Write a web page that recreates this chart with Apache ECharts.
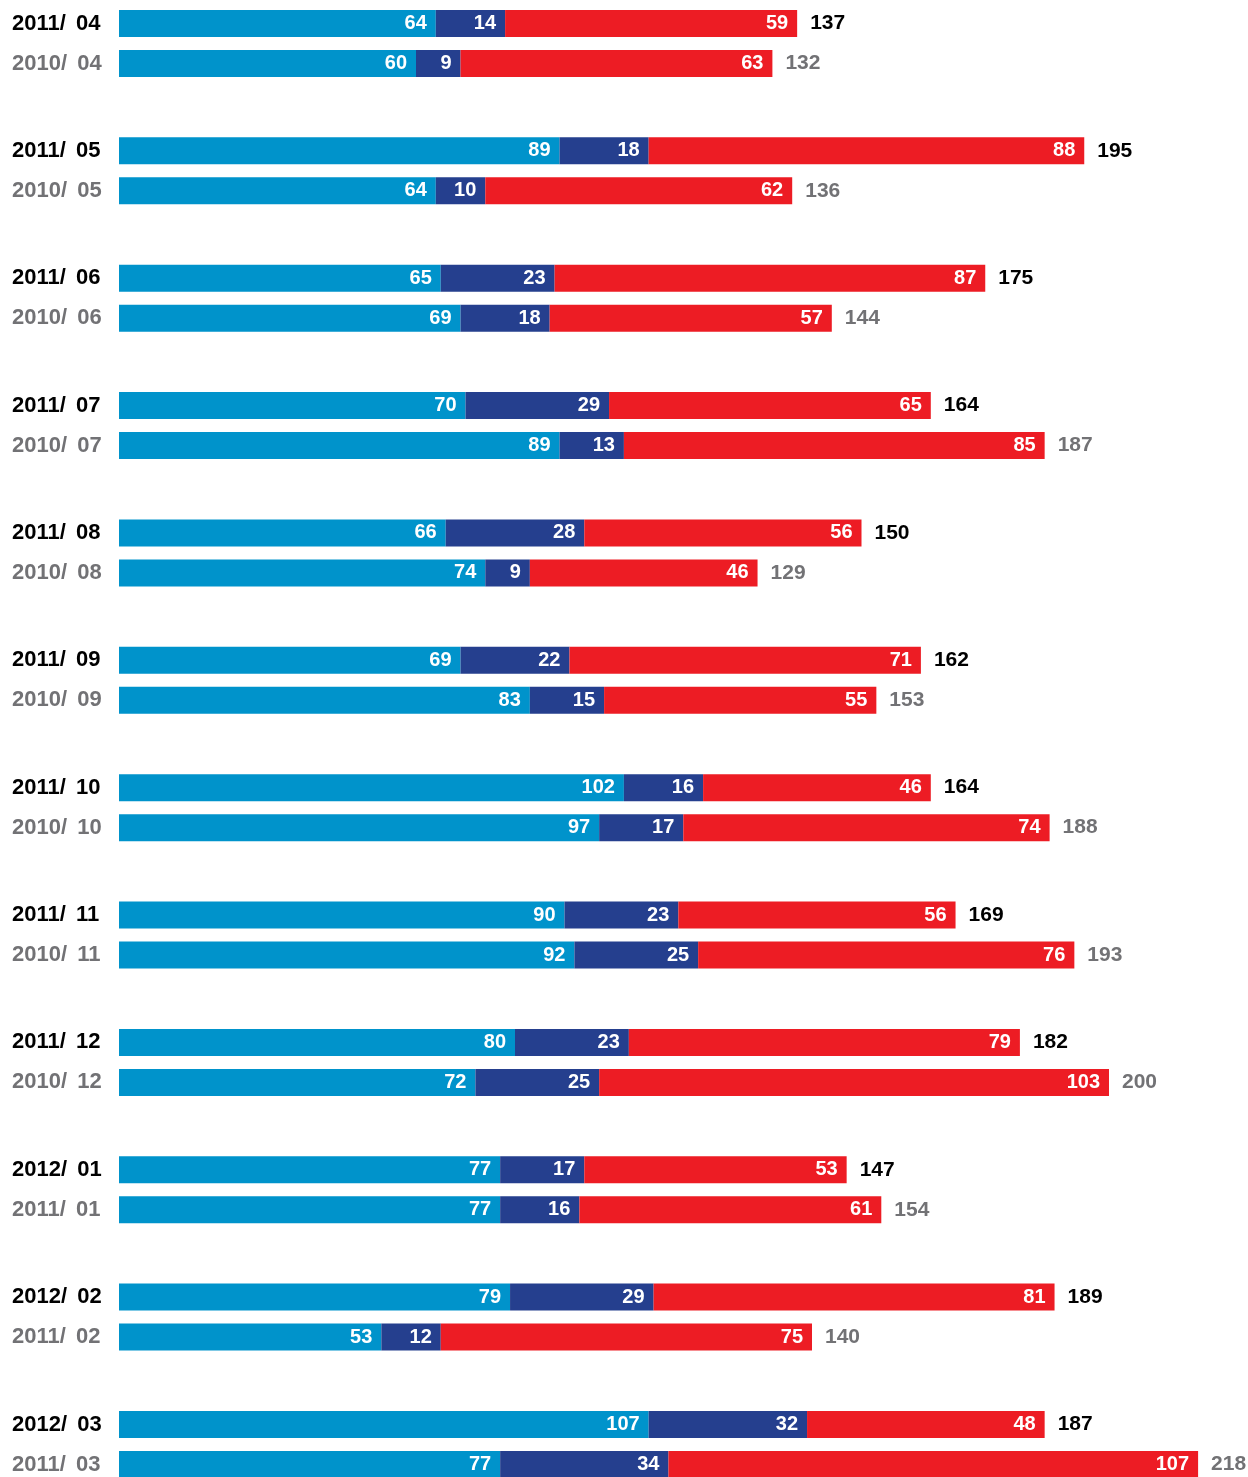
<!DOCTYPE html>
<html>
<head>
<meta charset="utf-8">
<title>Monthly comparison</title>
<script src="https://cdn.jsdelivr.net/npm/echarts@6/dist/echarts.min.js"></script>
<style>
  html, body { margin: 0; padding: 0; background: #fff; }
  #chart { width: 1248px; height: 1477px; }
</style>
</head>
<body>
<div id="chart"></div>
<script>
// months: current year (bold black) and prior year (gray)
const curMonths = ['2011/ 04', '2011/ 05', '2011/ 06', '2011/ 07', '2011/ 08', '2011/ 09',
  '2011/ 10', '2011/ 11', '2011/ 12', '2012/ 01', '2012/ 02', '2012/ 03']
const prevMonths = ['2010/ 04', '2010/ 05', '2010/ 06', '2010/ 07', '2010/ 08', '2010/ 09',
  '2010/ 10', '2010/ 11', '2010/ 12', '2011/ 01', '2011/ 02', '2011/ 03']

// segment values, current year
const curLight = [64, 89, 65, 70, 66, 69, 102, 90, 80, 77, 79, 107]
const curDark = [14, 18, 23, 29, 28, 22, 16, 23, 23, 17, 29, 32]
const curRed = [59, 88, 87, 65, 56, 71, 46, 56, 79, 53, 81, 48]

// segment values, prior year
const prevLight = [60, 64, 69, 89, 74, 83, 97, 92, 72, 77, 53, 77]
const prevDark = [9, 10, 18, 13, 9, 15, 17, 25, 25, 16, 12, 34]
const prevRed = [63, 62, 57, 85, 46, 55, 74, 76, 103, 61, 75, 107]

const LIGHT = '#0093cb'
const DARK = '#253f8e'
const RED = '#ed1c24'
const BLACK = '#000000'
const GRAY = '#727275'
const FONT = '"Liberation Sans", Arial, Helvetica, sans-serif'

const chart = echarts.init(document.getElementById('chart'))

const grids = []
const xAxes = []
const yAxes = []
const series = []

// "2011/ 04" -> year part and month part, month pushed a bit right like the original
function monthLabel(text, gray) {
  const cut = text.indexOf(' ') + 1
  const s = gray ? 'g' : ''
  return '{y' + s + '|' + text.slice(0, cut) + '}{m' + s + '|' + text.slice(cut) + '}'
}

const labelFont = { fontSize: 22, fontWeight: 'bold', fontFamily: FONT }

curMonths.forEach((month, i) => {
  grids.push({
    left: 119, width: 1089, top: 3.5 + i * 127.36, height: 80,
    containLabel: false, outerBoundsMode: 'none'
  })
  xAxes.push({
    type: 'value', gridIndex: i, min: 0, max: 220,
    show: false, splitLine: { show: false }
  })
  yAxes.push({
    type: 'category', gridIndex: i, inverse: true,
    data: [month, prevMonths[i]],
    axisLine: { show: false },
    axisTick: { show: false },
    axisLabel: {
      align: 'left', margin: 107,
      formatter: (val, idx) => monthLabel(val, idx === 1),
      rich: {
        y: { color: BLACK, ...labelFont },
        m: { color: BLACK, ...labelFont, padding: [0, 0, 0, 4] },
        yg: { color: GRAY, ...labelFont },
        mg: { color: GRAY, ...labelFont, padding: [0, 0, 0, 4] }
      }
    }
  })

  const segs = [
    [curLight[i], prevLight[i], LIGHT],
    [curDark[i], prevDark[i], DARK],
    [curRed[i], prevRed[i], RED]
  ]
  segs.forEach(([a, b, color]) => {
    series.push({
      type: 'bar', stack: 'g' + i,
      xAxisIndex: i, yAxisIndex: i,
      data: [a, b],
      barWidth: 27,
      itemStyle: { color },
      silent: true,
      label: {
        show: true, position: 'insideRight', distance: 9,
        color: '#fff', fontSize: 20, fontWeight: 'bold', fontFamily: FONT
      }
    })
  })

  const curTotal = curLight[i] + curDark[i] + curRed[i]
  const prevTotal = prevLight[i] + prevDark[i] + prevRed[i]
  series.push({
    type: 'scatter',
    xAxisIndex: i, yAxisIndex: i,
    symbolSize: 0,
    silent: true,
    itemStyle: { opacity: 1 },
    data: [
      { value: [curTotal, 0], label: { color: BLACK } },
      { value: [prevTotal, 1], label: { color: GRAY } }
    ],
    label: {
      show: true, position: 'right', distance: 13,
      formatter: (p) => p.value[0],
      fontSize: 21, fontWeight: 'bold', fontFamily: FONT
    }
  })
})

chart.setOption({
  animation: false,
  backgroundColor: '#fff',
  grid: grids,
  xAxis: xAxes,
  yAxis: yAxes,
  series
})

window.addEventListener('resize', () => chart.resize())
</script>
</body>
</html>
